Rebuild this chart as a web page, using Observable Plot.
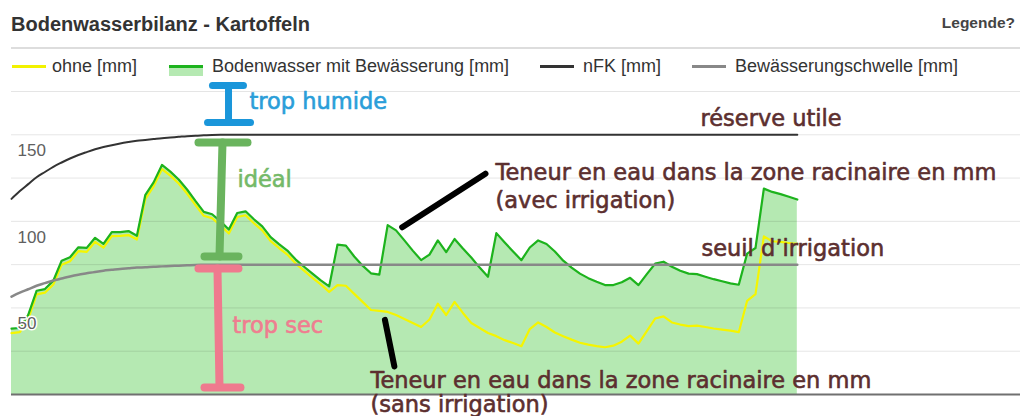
<!DOCTYPE html>
<html><head><meta charset="utf-8">
<script src="https://cdn.jsdelivr.net/npm/d3@7"></script>
<script src="https://cdn.jsdelivr.net/npm/@observablehq/plot@0.6"></script>
<style>
html,body{margin:0;padding:0;background:#fff;}
body{width:1027px;height:416px;position:relative;overflow:hidden;font-family:"Liberation Sans",Arial,sans-serif;}
#title{position:absolute;left:11px;top:14px;font-size:20px;line-height:20px;font-weight:bold;color:#333;white-space:nowrap;}
#help{position:absolute;right:12px;top:15px;font-size:15.5px;line-height:16px;font-weight:bold;color:#444;white-space:nowrap;}
#sep{position:absolute;left:11px;top:47px;width:1009px;height:2px;background:#ddd;}
.lg{position:absolute;top:57px;font-size:18px;line-height:18px;color:#333;white-space:nowrap;}
.sym{position:absolute;top:65px;width:34px;height:3px;}
#chart{position:absolute;left:0;top:76px;}
</style></head><body>
<div id="title"></div>
<div id="help"></div>
<div id="sep"></div>
<div id="legend"></div>
<div id="chart"></div>
<script>
// ---- texts ----
const titel = "Bodenwasserbilanz - Kartoffeln";
const hilfe = "Legende?";
const legendLabels = ["ohne [mm]", "Bodenwasser mit Bewässerung [mm]", "nFK [mm]", "Bewässerungschwelle [mm]"];

// ---- series (one value per day) ----
const mit = [38.0,38.4,46.0,59.9,60.9,65.7,77.3,79.3,85.0,84.7,90.5,87.0,93.8,93.8,94.4,91.7,115.1,122.5,132.6,128.7,
 124.2,118.4,111.8,105.5,104.1,100.0,95.3,104.8,105.8,101.2,97.1,90.9,86.9,83.1,77.9,73.8,69.8,65.9,62.4,86.6,
 86.0,79.7,74.4,70.0,69.2,97.8,94.8,89.0,83.1,77.6,80.8,89.0,82.2,89.8,84.3,79.1,73.3,68.0,93.2,87.8,
 82.6,77.6,84.9,89.0,86.9,82.6,77.3,73.3,69.8,67.2,65.1,63.2,63.2,64.8,67.4,63.2,69.5,75.6,76.7,73.8,
 71.5,69.8,69.5,68.0,66.6,65.4,64.2,63.4,81.4,84.6,118.9,117.0,115.7,114.2,112.6];
const ohne = [35.5,36.0,43.5,57.8,58.8,63.5,75.0,77.0,82.8,82.4,88.2,84.8,91.5,91.6,92.1,89.5,112.8,120.2,130.2,126.4,
 121.9,116.1,109.5,103.2,101.8,97.7,93.0,102.5,103.5,98.9,94.8,88.6,84.6,80.8,75.6,71.5,67.4,63.6,59.2,63.2,
 62.8,58.1,53.5,48.8,48.3,47.7,45.9,43.6,41.3,39.0,43.3,52.4,45.9,53.5,47.1,41.3,38.4,35.5,33.7,31.4,
 29.7,27.9,37.8,41.6,39.0,35.8,33.7,31.7,29.9,28.8,27.9,27.3,28.2,30.5,34.0,29.4,36.6,43.9,45.1,41.6,
 40.4,39.5,39.8,39.0,38.1,37.5,36.9,36.0,54.1,58.0,91.3,88.5,88.1,87.5,87.0];
const nfkTage = [0,1,2,3,4,5,6,7,8,9,10,11,12,13,14,15,16,17,18,19,20,21,22,23,24,25,94];
const nfk = [113,117.5,121.5,125.5,128.5,131.5,134,136.3,138.3,140,141.6,142.9,144,145,145.8,146.5,147,147.5,148,148.4,148.8,149.2,149.5,149.7,149.9,150,150];
const schwelle = [56.5,58.8,60.8,62.8,64.3,65.8,67,68.2,69.2,70,70.8,71.5,72,72.5,72.9,73.3,73.5,73.8,74,74.2,74.4,74.6,74.8,74.9,75,75,75];
const gridTicks = [0,25,50,75,100,125,150,175];
const axisTicks = [50,100,150];

// ---- annotations (day, mm) ----
const annotSegments = [
 {g:"humide",x1:25.96,y1:178.5,x2:25.96,y2:157.1},
 {g:"humide",x1:24.04,y1:178.5,x2:27.75,y2:178.5},
 {g:"humide",x1:23.45,y1:157.1,x2:28.59,y2:157.1},
 {g:"ideal",x1:25.24,y1:145.5,x2:24.88,y2:79.7},
 {g:"ideal",x1:22.37,y1:145.5,x2:28.23,y2:145.5},
 {g:"ideal",x1:23.09,y1:79.7,x2:27.15,y2:79.7},
 {g:"sec",x1:24.64,y1:72.8,x2:24.88,y2:4.6},
 {g:"sec",x1:22.37,y1:72.8,x2:27.15,y2:72.8},
 {g:"sec",x1:23.09,y1:4.0,x2:27.39,y2:4.0},
 {g:"zeiger",x1:46.74,y1:96.6,x2:56.70,y2:127.5},
 {g:"zeiger",x1:44.67,y1:43.1,x2:45.80,y2:16.2}
];
const annotTexts = [
 {g:"humide",t:"trop humide",x:28.47,y:169.2},
 {g:"ideal",t:"idéal",x:27.03,y:123.9},
 {g:"sec",t:"trop sec",x:26.44,y:39.9},
 {g:"braun",t:"réserve utile",x:82.42,y:159.4},
 {g:"braun",t:"Teneur en eau dans la zone racinaire en mm",x:57.9,y:128.2},
 {g:"braun",t:"(avec irrigation)",x:57.9,y:112.0},
 {g:"braun",t:"seuil d’irrigation",x:82.54,y:84.3},
 {g:"braun",t:"Teneur en eau dans la zone racinaire en mm",x:42.94,y:8.0},
 {g:"braun",t:"(sans irrigation)",x:42.94,y:-6.0}
];

// ---- header & legend ----
document.getElementById("title").textContent = titel;
document.getElementById("help").textContent = hilfe;
const legendColors = ["#f2f200","#1db31d","#333","#888"];
const symLeft = [12,169,540,692], txtLeft = [52,212,583,735];
const lg = document.getElementById("legend");
legendLabels.forEach((lab,k)=>{
  const s = document.createElement("div");
  s.className = "sym"; s.style.left = symLeft[k]+"px"; s.style.background = legendColors[k];
  lg.appendChild(s);
  if (k===1){
    const f = document.createElement("div");
    f.style.cssText = "position:absolute;top:68px;width:34px;height:8px;background:#b5e9b2;left:"+symLeft[k]+"px";
    lg.appendChild(f);
  }
  const t = document.createElement("div");
  t.className = "lg"; t.style.left = txtLeft[k]+"px"; t.textContent = lab;
  lg.appendChild(t);
});

// ---- chart ----
const data = mit.map((v,i)=>({tag:i, mit:v, ohne:ohne[i]}));
const nfkData = nfkTage.map((t,i)=>({tag:t, nfk:nfk[i], schwelle:schwelle[i]}));
const segColor = {humide:"#1a96da", ideal:"#6ab45e", sec:"#ef7a8e", zeiger:"#000"};
const segWidth = {humide:7, ideal:8, sec:8, zeiger:6};
const txtColor = {humide:"#2a9ed9", ideal:"#74b968", sec:"#ef7d90", braun:"#5c2f2f"};

const marks = [
  Plot.areaY(data,{x:"tag", y:"mit", fill:"#b5e9b2"}),
  Plot.ruleY(gridTicks,{stroke:"#000", strokeOpacity:0.1, strokeWidth:1}),
  Plot.ruleY([0],{stroke:"#707070", strokeWidth:2}),
  Plot.lineY(data,{x:"tag", y:"ohne", stroke:"#f5f500", strokeWidth:2.2}),
  Plot.lineY(data,{x:"tag", y:"mit", stroke:"#1db31d", strokeWidth:2.2}),
  Plot.lineY(nfkData,{x:"tag", y:"schwelle", stroke:"#888", strokeWidth:2.5, curve:"monotone-x"}),
  Plot.lineY(nfkData,{x:"tag", y:"nfk", stroke:"#333", strokeWidth:2, curve:"monotone-x"}),
  Plot.text(axisTicks,{y:d=>d, text:d=>String(d), frameAnchor:"left", dx:6, dy:16, textAnchor:"start",
    fontSize:17, fill:"#606060", stroke:"#fff", strokeWidth:3, paintOrder:"stroke", fontFamily:"Liberation Sans"})
];
for (const g of Object.keys(segColor)) {
  marks.push(Plot.link(annotSegments.filter(d=>d.g===g),{x1:"x1",y1:"y1",x2:"x2",y2:"y2",
    stroke:segColor[g], strokeWidth:segWidth[g], strokeLinecap:"round"}));
}
for (const g of Object.keys(txtColor)) {
  marks.push(Plot.text(annotTexts.filter(d=>d.g===g),{x:"x", y:"y", text:"t", textAnchor:"start",
    fill:txtColor[g], stroke:txtColor[g], strokeWidth:0.6, fontSize:22.5, fontFamily:"DejaVu Sans"}));
}

const chart = Plot.plot({
  width:1027, height:340, marginTop:15, marginBottom:22, marginLeft:11, marginRight:7,
  x:{domain:[0,120.7], axis:null},
  y:{domain:[0,175], axis:null},
  style:{overflow:"visible", background:"transparent", fontFamily:"Liberation Sans"},
  marks
});
document.getElementById("chart").appendChild(chart);
</script>
</body></html>
